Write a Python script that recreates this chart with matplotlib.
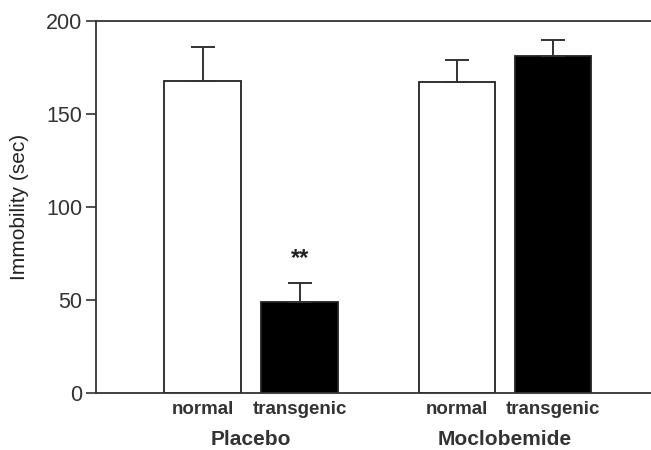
import numpy as np
import matplotlib
matplotlib.use('Agg')
import matplotlib.pyplot as plt

plt.rcParams['font.family'] = ['Liberation Sans', 'DejaVu Sans']

# values
groups = ['Placebo', 'Moclobemide']
conditions = ['normal', 'transgenic', 'normal', 'transgenic']
means = [168, 49, 167, 181]
errors = [18, 10, 12, 9]
colors = ['white', 'black', 'white', 'black']
positions = [0, 1, 2.62, 3.61]

fig = plt.figure(figsize=(6.51, 4.5), dpi=100)
ax = fig.add_axes([0.1475, 0.1267, 0.8525, 0.8266])

ax.bar(positions, means, width=0.79, color=colors, edgecolor='#222222',
       linewidth=1.3, zorder=2)
ax.errorbar(positions, means, yerr=[np.zeros(len(errors)), errors], fmt='none',
            ecolor='#333333', elinewidth=1.4, capsize=8.3, capthick=1.4, zorder=3)

# significance marker
ax.text(positions[1], 66, '**', ha='center', va='bottom', fontsize=17,
        fontweight='bold', color='#222222')

ax.set_xlim(-1.10, 4.62)
ax.set_ylim(0, 200)
ax.set_yticks([0, 50, 100, 150, 200])
ax.tick_params(axis='y', direction='out', length=7, width=1.2, labelsize=15.5,
               colors='#333333', pad=3)
ax.set_xticks(positions)
ax.set_xticklabels(conditions, fontsize=13.5, fontweight='bold', color='#333333')
ax.tick_params(axis='x', length=0, pad=6)
ax.set_ylabel('Immobility (sec)', fontsize=15, color='#222222', labelpad=12)

for side in ['left', 'bottom', 'top']:
    ax.spines[side].set_linewidth(1.3)
    ax.spines[side].set_color('#333333')
ax.spines['right'].set_visible(False)

# group labels under the condition labels
for g, x in zip(groups, [np.mean(positions[:2]), np.mean(positions[2:])]):
    ax.text(x, -0.124, g, transform=ax.get_xaxis_transform(), ha='center',
            va='center', fontsize=15, fontweight='bold', color='#333333')

fig.savefig('out.png', dpi=100)
